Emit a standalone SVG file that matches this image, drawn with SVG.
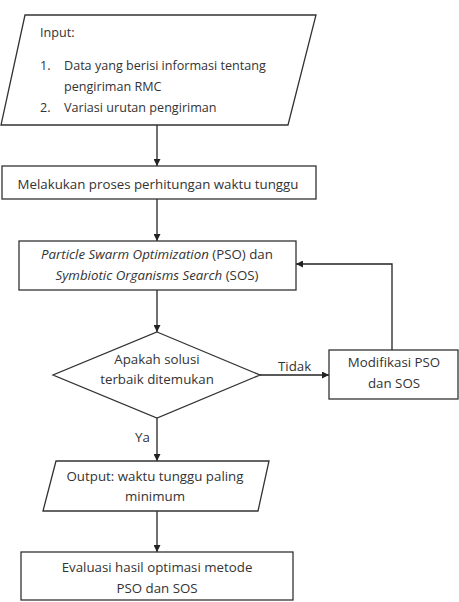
<svg xmlns="http://www.w3.org/2000/svg" width="459" height="602" viewBox="0 0 459 602">
<defs>
<marker id="ah" viewBox="0 0 10 10" refX="10" refY="5" markerWidth="7" markerHeight="7" markerUnits="userSpaceOnUse" orient="auto">
<path d="M0,0 L10,5 L0,10 z" fill="#222"/>
</marker>
<style>
.s{fill:#fff;stroke:#333;stroke-width:1.3}
.t{font-family:"Open Sans","Liberation Sans",Arial,sans-serif;font-size:13.3px;fill:#333}
.i{font-size:12.6px}
.c{text-anchor:middle}
.e{fill:none;stroke:#222;stroke-width:1.3;marker-end:url(#ah)}
</style>
</defs>
<rect width="459" height="602" fill="#fff"/>
<g id="connectors">
<path class="e" d="M157,125 V166"/>
<path class="e" d="M157,199 V241"/>
<path class="e" d="M157,290 V332"/>
<path class="e" d="M260,375 H329"/>
<path class="e" d="M392,350 V264 H296"/>
<path class="e" d="M157,418 V461"/>
<path class="e" d="M157,511 V552"/>
<text class="t" x="278" y="371">Tidak</text>
<text class="t" x="135" y="442">Ya</text>
</g>
<g id="input">
<polygon class="s" points="25,15 316,15 288,125 1,125"/>
<text class="t i" x="40" y="37">Input:</text>
<text class="t i" x="40" y="70">1.</text>
<text class="t i" x="64" y="70">Data yang berisi informasi tentang</text>
<text class="t i" x="64" y="91">pengiriman RMC</text>
<text class="t i" x="40" y="112">2.</text>
<text class="t i" x="64" y="112">Variasi urutan pengiriman</text>
</g>
<g id="proses">
<rect class="s" x="2" y="166" width="314" height="33"/>
<text class="t c" x="158" y="189">Melakukan proses perhitungan waktu tunggu</text>
</g>
<g id="pso-sos">
<rect class="s" x="19" y="241" width="277" height="49"/>
<text class="t c" x="157" y="259"><tspan font-style="italic">Particle Swarm Optimization</tspan> (PSO) dan</text>
<text class="t c" x="157" y="280"><tspan font-style="italic">Symbiotic Organisms Search</tspan> (SOS)</text>
</g>
<g id="keputusan">
<polygon class="s" points="157,332 260,375 157,418 53,375"/>
<text class="t c" x="157" y="364">Apakah solusi</text>
<text class="t c" x="157" y="384">terbaik ditemukan</text>
</g>
<g id="modifikasi">
<rect class="s" x="329" y="350" width="129" height="49"/>
<text class="t c" x="394" y="367">Modifikasi PSO</text>
<text class="t c" x="394" y="388">dan SOS</text>
</g>
<g id="output">
<polygon class="s" points="56,461 269,461 258,511 43,511"/>
<text class="t c" x="155" y="481">Output: waktu tunggu paling</text>
<text class="t c" x="155" y="501">minimum</text>
</g>
<g id="evaluasi">
<rect class="s" x="21" y="552" width="272" height="48"/>
<text class="t c" x="157" y="572">Evaluasi hasil optimasi metode</text>
<text class="t c" x="157" y="593">PSO dan SOS</text>
</g>
</svg>
